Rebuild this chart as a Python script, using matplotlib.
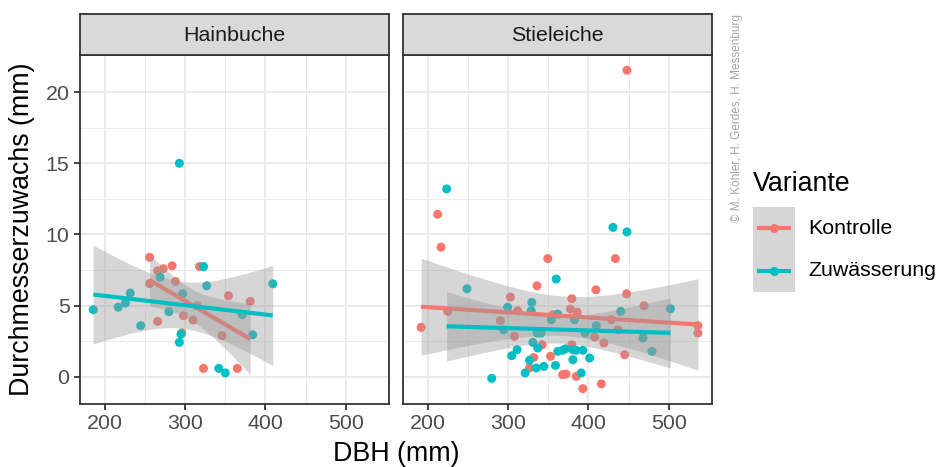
import numpy as np
import matplotlib
matplotlib.use("Agg")
import matplotlib.pyplot as plt
from matplotlib.patches import Rectangle

plt.rcParams['font.family'] = ['Liberation Sans', 'DejaVu Sans']

# ---------------- data ----------------
species = ["Hainbuche", "Stieleiche"]
variants = ["Kontrolle", "Zuwässerung"]
colors = {"Kontrolle": "#F8766D", "Zuwässerung": "#00BFC4"}

hb_k_x = [256, 256, 266, 273, 284, 288, 266, 298, 296, 310, 315, 318, 323, 346, 354, 365, 381]
hb_k_y = [8.4, 6.55, 7.45, 7.6, 7.8, 6.7, 3.9, 4.3, 3.1, 4.0, 5.0, 7.75, 0.6, 2.9, 5.7, 0.6, 5.3]

hb_z_x = [186, 217, 226, 232, 245, 269, 280, 297, 295, 293, 293, 323, 327, 342, 350, 371, 384, 409]
hb_z_y = [4.72, 4.9, 5.18, 5.89, 3.6, 7.0, 4.58, 5.84, 3.0, 2.43, 15.0, 7.75, 6.4, 0.6, 0.28, 4.37, 2.96, 6.54]

se_k_x = [192, 212.5, 216.7, 225, 290.5, 303, 312, 308, 326.7, 332, 336, 342.5, 349.4, 352.8,
          355.7, 368, 372, 377.7, 379.3, 379.3, 384.8, 386, 393, 407.6, 409.2, 416, 419.2,
          428.4, 433.4, 436.6, 445, 447.4, 447.8, 469, 536, 536]
se_k_y = [3.48, 11.42, 9.11, 4.6, 3.95, 5.6, 4.65, 2.85, 0.63, 1.37, 6.4, 2.26, 8.31, 1.45,
          4.37, 0.16, 0.2, 4.76, 5.49, 2.26, 0.04, 4.55, -0.82, 2.8, 6.12, -0.49, 2.38,
          4.02, 8.31, 3.31, 1.56, 5.84, 21.53, 5.0, 3.6, 3.08]

se_z_x = [223.7, 249, 279.7, 294.6, 299.6, 304.6, 311.3, 321.3, 326.7, 328.8, 329.5, 330.8,
          335, 336.2, 337, 341, 344.5, 353.7, 359, 359.9, 361.9, 361.9, 368.1, 371, 380.6,
          380.6, 382.7, 384.8, 391, 393, 396, 401.4, 409.7, 430.4, 440, 447.8, 467.7, 478.9, 501.9]
se_z_y = [13.2, 6.19, -0.1, 3.31, 4.9, 1.49, 1.91, 0.28, 1.17, 4.65, 5.23, 2.43,
          0.63, 3.08, 2.03, 3.08, 0.74, 4.02, 0.81, 6.87, 4.41, 1.8, 1.87, 1.97, 1.91,
          1.21, 4.02, 1.87, 0.28, 1.87, 3.08, 1.33, 3.6, 10.5, 4.6, 10.18, 2.73, 1.8, 4.79]

data = {
    "Hainbuche": {"Kontrolle": (hb_k_x, hb_k_y), "Zuwässerung": (hb_z_x, hb_z_y)},
    "Stieleiche": {"Kontrolle": (se_k_x, se_k_y), "Zuwässerung": (se_z_x, se_z_y)},
}

x_ticks = [200, 300, 400, 500]
y_ticks = [0, 5, 10, 15, 20]


def t_quantile(p, df):
    a = [-3.969683028665376e+01, 2.209460984245205e+02, -2.759285104469687e+02,
         1.383577518672690e+02, -3.066479806614716e+01, 2.506628277459239e+00]
    b = [-5.447609879822406e+01, 1.615858368580409e+02, -1.556989798598866e+02,
         6.680131188771972e+01, -1.328068155288572e+01]
    r = p - 0.5
    s = r * r
    z = (((((a[0]*s + a[1])*s + a[2])*s + a[3])*s + a[4])*s + a[5]) * r / \
        (((((b[0]*s + b[1])*s + b[2])*s + b[3])*s + b[4])*s + 1)
    g1 = (z**3 + z) / 4
    g2 = (5*z**5 + 16*z**3 + 3*z) / 96
    g3 = (3*z**7 + 19*z**5 + 17*z**3 - 15*z) / 384
    return z + g1/df + g2/df**2 + g3/df**3


def lm_fit(x, y):
    x = np.asarray(x, float)
    y = np.asarray(y, float)
    n = len(x)
    b1, b0 = np.polyfit(x, y, 1)
    res = y - (b0 + b1*x)
    s = np.sqrt(np.sum(res**2) / (n - 2))
    xm = x.mean()
    sxx = np.sum((x - xm)**2)
    xs = np.linspace(x.min(), x.max(), 80)
    yh = b0 + b1*xs
    se = s * np.sqrt(1/n + (xs - xm)**2 / sxx)
    t = t_quantile(0.975, n - 2)
    return xs, yh, yh - t*se, yh + t*se


# ---------------- figure ----------------
W, H = 939, 467
fig = plt.figure(figsize=(W/100, H/100), dpi=100)

SMALL = 15.4
BIG = 19.3
panel_x = [80, 403]
panel_w = 309
panel_top, panel_bot = 55, 404
strip_top = 14

xlim = (169.5, 553.5)
ylim = (-1.9, 22.6)

for i, sp in enumerate(species):
    ax = fig.add_axes([panel_x[i]/W, 1 - panel_bot/H, panel_w/W, (panel_bot - panel_top)/H])
    ax.set_xlim(*xlim)
    ax.set_ylim(*ylim)
    ax.set_facecolor("white")
    ax.set_xticks(x_ticks)
    ax.set_xticks([250, 350, 450], minor=True)
    ax.set_yticks(y_ticks)
    ax.set_yticks([2.5, 7.5, 12.5, 17.5], minor=True)
    ax.grid(True, which="major", color="#EBEBEB", lw=1.4, zorder=0)
    ax.grid(True, which="minor", color="#EBEBEB", lw=0.7, zorder=0)
    ax.set_axisbelow(True)
    for s in ax.spines.values():
        s.set_color("#333333")
        s.set_linewidth(1.3)
        s.set_zorder(10)
    ax.tick_params(which="major", length=4.5, width=1.3, color="#333333",
                   labelsize=SMALL, labelcolor="#4D4D4D", pad=3)
    ax.tick_params(which="minor", length=0)
    if i > 0:
        ax.tick_params(axis="y", which="both", left=False, labelleft=False)

    for v in variants:
        x, y = data[sp][v]
        ax.scatter(x, y, s=42, color=colors[v], edgecolors="none", zorder=2)
    for v in variants:
        x, y = data[sp][v]
        xs, yh, lo, hi = lm_fit(x, y)
        ax.fill_between(xs, lo, hi, color="#999999", alpha=0.4, lw=0, zorder=3)
        ax.plot(xs, yh, color=colors[v], lw=3.0, zorder=3, solid_capstyle="butt")

    # strip
    sax = fig.add_axes([panel_x[i]/W, 1 - panel_top/H, panel_w/W, (panel_top - strip_top)/H])
    sax.set_facecolor("#D9D9D9")
    sax.set_xticks([])
    sax.set_yticks([])
    for s in sax.spines.values():
        s.set_color("#333333")
        s.set_linewidth(1.3)
    sax.text(0.5, 0.48, sp, ha="center", va="center", fontsize=SMALL, color="#1A1A1A",
             transform=sax.transAxes)

# axis titles
fig.text(22/W, 1 - 229.5/H, "Durchmesserzuwachs (mm)", rotation=90, ha="center",
         va="center", fontsize=BIG, color="black")
fig.text(396/W, 1 - 461/H, "DBH (mm)", ha="center", va="baseline", fontsize=BIG,
         color="black")

# copyright
fig.text(737/W, 1 - 118/H, "© M. Köhler, H. Gerdes, H. Messenburg", rotation=90,
         ha="center", va="center", fontsize=8.5, color="#A6A6A6")

# legend
fig.text(753/W, 1 - 191/H, "Variante", ha="left", va="baseline", fontsize=BIG, color="black")
key_top = 207
key_h = 42.5
for j, v in enumerate(variants):
    kax = fig.add_axes([753/W, 1 - (key_top + (j+1)*key_h)/H, 42/W, key_h/H])
    kax.set_xlim(0, 1)
    kax.set_ylim(0, 1)
    kax.axis("off")
    kax.add_patch(Rectangle((0, 0), 1, 1, facecolor="#999999", alpha=0.4, lw=0))
    kax.plot([0.1, 0.9], [0.5, 0.5], color=colors[v], lw=3.0, solid_capstyle="butt")
    kax.plot([0.5], [0.5], marker="o", ms=6.5, color=colors[v], mec="none")
    fig.text(808/W, 1 - (key_top + (j+0.5)*key_h)/H, v, ha="left", va="center",
             fontsize=SMALL, color="black")

fig.savefig("out.png", dpi=100)
